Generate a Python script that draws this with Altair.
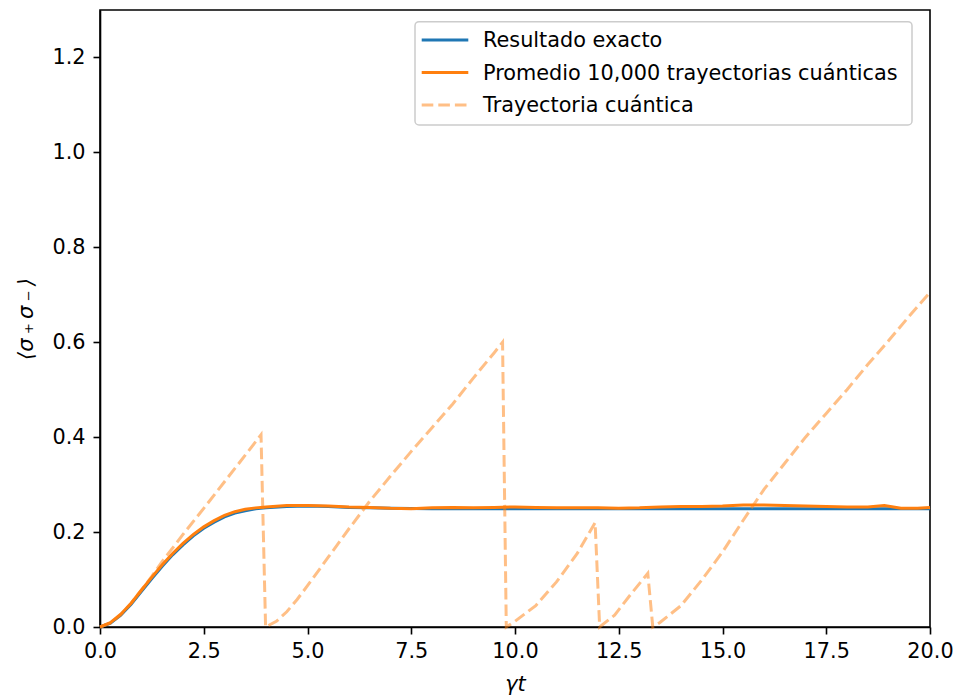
import altair as alt
import pandas as pd

# ---- data ----
exact_t = [0, 0.25, 0.5, 0.75, 1.0, 1.25, 1.5, 1.75, 2.0, 2.25, 2.5, 2.75, 3.0, 3.25, 3.5, 3.75,
           4.0, 4.5, 5.0, 5.5, 6.0, 6.5, 7.0, 8.0, 10.0, 12.0, 14.0, 16.0, 18.0, 20.0]
exact_v = [0, 0.008, 0.025, 0.048, 0.075, 0.102, 0.128, 0.152, 0.173, 0.192, 0.208, 0.221, 0.232, 0.240,
           0.245, 0.249, 0.251, 0.254, 0.255, 0.254, 0.252, 0.251, 0.250, 0.249, 0.249, 0.249, 0.249,
           0.249, 0.249, 0.249]

avg_t = [0, 0.25, 0.5, 0.75, 1.0, 1.25, 1.5, 1.75, 2.0, 2.25, 2.5, 2.75, 3.0, 3.25, 3.5, 3.75,
         4.0, 4.5, 5.0, 5.5, 6.0, 6.5, 7.0, 7.5, 8.0, 8.5, 9.0, 9.5, 10.0, 10.5, 11.0, 11.5, 12.0,
         12.5, 13.0, 13.5, 14.0, 14.5, 15.0, 15.5, 16.0, 16.5, 17.0, 17.5, 18.0, 18.5, 18.9, 19.3,
         19.7, 20.0]
avg_v = [0, 0.009, 0.027, 0.050, 0.078, 0.105, 0.131, 0.155, 0.176, 0.195, 0.211, 0.224, 0.235, 0.243,
         0.248, 0.251, 0.253, 0.256, 0.256, 0.255, 0.253, 0.252, 0.250, 0.249, 0.251, 0.252, 0.251,
         0.252, 0.253, 0.252, 0.251, 0.251, 0.251, 0.250, 0.251, 0.253, 0.254, 0.254, 0.255, 0.257,
         0.257, 0.256, 0.255, 0.254, 0.253, 0.253, 0.256, 0.250, 0.250, 0.252]

traj_t = [0, 0.25, 0.5, 0.75, 1.0, 1.25, 1.5, 2.0, 2.5, 3.0, 3.5, 3.88, 3.99,
          4.25, 4.5, 4.75, 5.0, 5.5, 6.0, 6.5, 7.0, 7.5, 8.0, 8.5, 9.0, 9.5, 9.7, 9.79,
          10.0, 10.5, 11.0, 11.5, 11.93, 12.04,
          12.4, 12.8, 13.2, 13.32,
          13.5, 14.0, 14.5, 15.0, 15.5, 16.0, 16.5, 17.0, 17.5, 18.0, 18.5, 19.0, 19.5, 20.0]
traj_v = [0, 0.008, 0.025, 0.050, 0.078, 0.107, 0.138, 0.195, 0.250, 0.306, 0.362, 0.405, 0.0,
          0.012, 0.032, 0.058, 0.087, 0.147, 0.207, 0.265, 0.318, 0.370, 0.420, 0.470, 0.525, 0.578, 0.600, 0.0,
          0.012, 0.045, 0.095, 0.155, 0.220, 0.0,
          0.025, 0.070, 0.113, 0.0,
          0.010, 0.045, 0.099, 0.158, 0.225, 0.290, 0.345, 0.400, 0.450, 0.500, 0.553, 0.603, 0.655, 0.705]

legend_labels = ["Resultado exacto", "Promedio 10,000 trayectorias cuánticas", "Trayectoria cuántica"]
x_ticks = [0, 2.5, 5, 7.5, 10, 12.5, 15, 17.5, 20]
y_ticks = [0, 0.2, 0.4, 0.6, 0.8, 1.0, 1.2]

BLUE = "#1f77b4"
ORANGE = "#ff7f0e"
FONT = "DejaVu Sans"
FS = 20.8

df_exact = pd.DataFrame({"t": exact_t, "v": exact_v, "i": range(len(exact_t))})
df_avg = pd.DataFrame({"t": avg_t, "v": avg_v, "i": range(len(avg_t))})
df_traj = pd.DataFrame({"t": traj_t, "v": traj_v, "i": range(len(traj_t))})

xs = alt.Scale(domain=[0, 20], nice=False, zero=False)
ys = alt.Scale(domain=[0, 1.3], nice=False)

xenc = alt.X("t:Q", scale=xs, axis=alt.Axis(
    title="γt", values=x_ticks, format=".1f", titleFontStyle="italic",
    titleBaseline="middle", titleY=57, labelPadding=7, labelFlush=False, labelOverlap=False))
yenc = alt.Y("v:Q", scale=ys, axis=alt.Axis(
    title="⟨σ\u2009₊\u2009σ\u2009₋\u2009⟩", values=y_ticks, format=".1f", titleFontStyle="italic",
    titleFontSize=21, titleBaseline="middle", titleX=-74, titleAngle=-90, labelPadding=8,
    labelFlush=False, labelOverlap=False))

exact = alt.Chart(df_exact).mark_line(color=BLUE, strokeWidth=3).encode(
    x=xenc, y=yenc, order="i:Q")
avg = alt.Chart(df_avg).mark_line(color=ORANGE, strokeWidth=3).encode(
    x=alt.X("t:Q", scale=xs), y=alt.Y("v:Q", scale=ys), order="i:Q")
traj = alt.Chart(df_traj).mark_line(color=ORANGE, strokeWidth=3, opacity=0.5,
                                    strokeDash=[11.6, 5]).encode(
    x=alt.X("t:Q", scale=xs), y=alt.Y("v:Q", scale=ys), order="i:Q")

one = alt.Data(values=[{"k": 1}])
box = alt.Chart(one).mark_rect(fill="white", fillOpacity=0.8, stroke="#cccccc",
                               strokeWidth=1.5, cornerRadius=4).encode(
    x=alt.value(315), x2=alt.value(812), y=alt.value(11.7), y2=alt.value(115))

rows = [30, 62.5, 95]
leg_layers = [box]
styles = [dict(color=BLUE), dict(color=ORANGE), dict(color=ORANGE, opacity=0.5, strokeDash=[11.6, 5])]
for lab, r, st in zip(legend_labels, rows, styles):
    leg_layers.append(alt.Chart(one).mark_rule(strokeWidth=3, **st).encode(
        x=alt.value(321.7), x2=alt.value(368.3), y=alt.value(r)))
    leg_layers.append(alt.Chart(one).mark_text(text=lab, align="left", baseline="alphabetic",
                                              font=FONT, fontSize=FS, color="black").encode(
        x=alt.value(383), y=alt.value(r + 7)))

chart = alt.layer(exact, avg, traj, *leg_layers).properties(
    width=830, height=617,
    autosize=alt.AutoSizeParams(type="none"),
    padding={"left": 100, "top": 10, "right": 26, "bottom": 71},
    background="white",
).configure_view(
    stroke="black", strokeWidth=1.6
).configure_axis(
    grid=False, domainColor="black", domainWidth=1.6, tickColor="black", tickWidth=1.6,
    tickSize=7, labelFont=FONT, labelFontSize=FS, labelColor="black",
    titleFont=FONT, titleFontSize=FS, titleColor="black", titleFontWeight="normal"
)

chart.save("out.html", embed_options={"renderer": "svg", "actions": False})
